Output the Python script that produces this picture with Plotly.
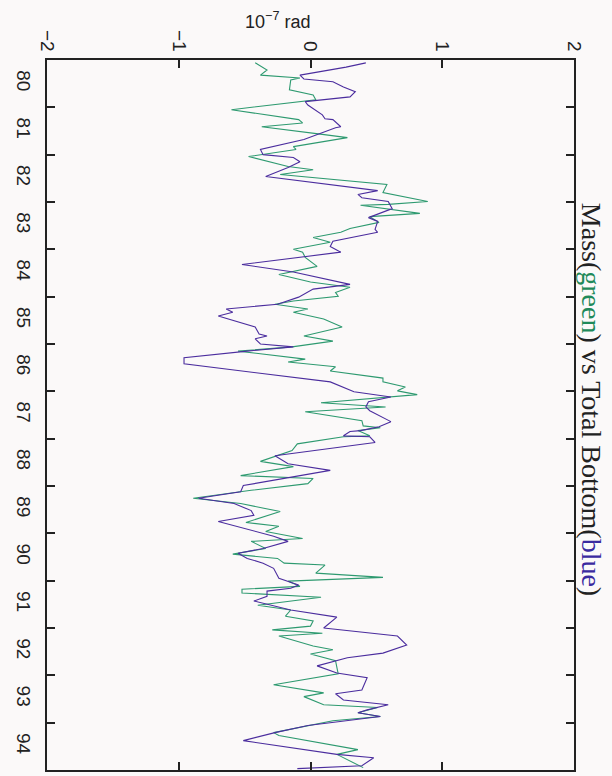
import plotly.graph_objects as go

# Time axis (decimal years) and values (10^-7 rad)
green_t = [80.06, 80.21, 80.32, 80.38, 80.42, 80.63, 80.74, 80.84, 81.05, 81.26, 81.33, 81.41, 81.56, 81.64,
           81.83, 81.89, 82.04, 82.25, 82.32, 82.42, 82.63, 82.80, 82.99, 83.05, 83.07, 83.24, 83.31, 83.43,
           83.56, 83.64, 83.75, 83.85, 84.00, 84.06, 84.17, 84.36, 84.53, 84.69, 84.80, 84.91, 84.99, 85.09,
           85.16, 85.26, 85.33, 85.47, 85.64, 85.83, 85.94, 86.06, 86.15, 86.32, 86.38, 86.48, 86.57, 86.72,
           86.80, 86.91, 86.99, 87.07, 87.24, 87.33, 87.43, 87.62, 87.73, 87.77, 87.83, 87.94, 87.96, 88.11,
           88.25, 88.48, 88.59, 88.78, 88.84, 88.95, 89.09, 89.26, 89.37, 89.54, 89.77, 89.85, 89.96, 90.11,
           90.17, 90.32, 90.44, 90.53, 90.63, 90.67, 90.84, 90.93, 91.01, 91.12, 91.18, 91.26, 91.35, 91.52,
           91.62, 91.75, 91.85, 91.96, 92.04, 92.11, 92.17, 92.38, 92.46, 92.55, 92.69, 92.97, 93.20, 93.37,
           93.45, 93.62, 93.68, 93.79, 93.87, 93.96, 94.21, 94.27, 94.57, 94.67, 94.95]
green_v = [-0.42, -0.33, -0.38, -0.08, -0.15, -0.16, 0.02, 0.04, -0.60, -0.09, -0.06, -0.37, 0.06, 0.28,
           -0.13, -0.11, -0.47, -0.17, 0.02, -0.23, 0.58, 0.55, 0.89, 0.59, 0.38, 0.83, 0.45, 0.52,
           0.30, 0.23, 0.02, 0.15, -0.13, -0.06, -0.04, 0.05, -0.24, 0.00, 0.30, 0.19, 0.21, -0.13,
           -0.27, -0.02, -0.13, 0.10, 0.24, -0.05, 0.17, -0.14, -0.55, -0.04, -0.17, 0.19, 0.15, 0.55,
           0.55, 0.72, 0.66, 0.81, 0.08, 0.57, -0.04, 0.39, 0.40, 0.53, 0.36, 0.45, 0.25, -0.10,
           -0.14, -0.38, -0.13, -0.53, 0.02, -0.02, -0.45, -0.89, -0.53, -0.23, -0.49, -0.24, -0.34, -0.06,
           -0.45, -0.34, -0.59, -0.25, -0.20, 0.11, 0.04, 0.55, -0.17, -0.08, -0.52, -0.52, 0.08, -0.40,
           -0.15, -0.19, 0.02, 0.00, -0.29, 0.09, -0.24, 0.02, 0.17, 0.00, 0.19, 0.21, -0.28, 0.10,
           -0.05, 0.10, 0.51, 0.36, 0.53, 0.17, -0.28, -0.24, 0.36, 0.20, 0.40]

blue_t = [80.06, 80.15, 80.32, 80.40, 80.46, 80.57, 80.67, 80.78, 80.88, 80.95, 81.16, 81.24, 81.26, 81.41,
          81.43, 81.58, 81.68, 81.89, 82.00, 82.06, 82.15, 82.27, 82.46, 82.76, 82.84, 82.91, 82.99, 83.14,
          83.33, 83.41, 83.58, 83.64, 83.83, 83.94, 84.06, 84.32, 84.48, 84.74, 84.84, 85.01, 85.16, 85.26,
          85.33, 85.41, 85.64, 85.79, 85.83, 85.89, 86.00, 86.06, 86.15, 86.29, 86.42, 86.80, 87.01, 87.12,
          87.22, 87.33, 87.41, 87.64, 87.75, 87.83, 87.85, 87.94, 87.96, 88.08, 88.36, 88.53, 88.67, 88.99,
          89.12, 89.26, 89.37, 89.52, 89.62, 89.75, 89.94, 90.06, 90.17, 90.32, 90.42, 90.53, 90.63, 90.74,
          90.95, 91.01, 91.09, 91.16, 91.22, 91.33, 91.43, 91.62, 91.77, 92.00, 92.17, 92.36, 92.53, 92.63,
          92.80, 92.95, 93.05, 93.31, 93.39, 93.52, 93.62, 93.73, 93.79, 93.87, 94.06, 94.21, 94.38, 94.67,
          94.74, 94.91, 94.97]
blue_v = [0.42, 0.27, -0.08, -0.05, 0.17, 0.25, 0.34, 0.30, -0.04, -0.02, 0.09, 0.11, 0.17, 0.23,
          0.19, 0.04, -0.05, -0.38, -0.36, -0.13, -0.08, -0.17, -0.34, 0.51, 0.36, 0.39, 0.59, 0.62,
          0.44, 0.51, 0.49, 0.51, 0.17, 0.15, 0.23, -0.52, -0.13, 0.30, 0.02, -0.09, -0.25, -0.64,
          -0.59, -0.70, -0.42, -0.39, -0.33, -0.42, -0.38, -0.13, -0.48, -0.96, -0.96, 0.15, 0.33, 0.61,
          0.44, 0.42, 0.45, 0.61, 0.52, 0.38, 0.30, 0.25, 0.45, 0.49, -0.27, -0.17, 0.15, -0.51,
          -0.53, -0.85, -0.58, -0.45, -0.43, -0.70, -0.45, -0.28, -0.17, -0.36, -0.55, -0.48, -0.36, -0.28,
          -0.24, -0.17, -0.09, -0.15, -0.33, -0.33, -0.43, -0.15, 0.20, 0.10, 0.66, 0.73, 0.55, 0.28,
          0.05, 0.20, 0.43, 0.39, 0.19, 0.25, 0.59, 0.43, 0.36, 0.53, -0.02, -0.27, -0.51, 0.20,
          0.48, 0.39, -0.10]

value_ticks = [-2, -1, 0, 1, 2]
year_ticks = list(range(81, 95))
year_labels = [str(y) for y in range(80, 95)]

GREEN = "#2e9a70"
BLUE = "#4b2d9e"

fig = go.Figure()
fig.add_trace(go.Scatter(x=green_v, y=green_t, mode="lines", line=dict(color=GREEN, width=1.1),
                         showlegend=False, hoverinfo="skip"))
fig.add_trace(go.Scatter(x=blue_v, y=blue_t, mode="lines", line=dict(color=BLUE, width=1.1),
                         showlegend=False, hoverinfo="skip"))
# invisible trace bound to the label axis
fig.add_trace(go.Scatter(x=[0], y=[87], yaxis="y2", mode="markers", marker=dict(opacity=0),
                         showlegend=False, hoverinfo="skip"))

axis_font = dict(family="Liberation Sans, Arial, sans-serif", size=19, color="#222")

fig.update_layout(
    width=612, height=776,
    margin=dict(l=47, r=38, t=60, b=4),
    paper_bgcolor="#fbf9f9", plot_bgcolor="#fbf9f9",
    xaxis=dict(range=[-2, 2], side="top", tickvals=value_ticks,
               ticktext=[("−" + str(-v)) if v < 0 else str(v) for v in value_ticks],
               tickangle=90, ticks="inside", ticklen=8, tickwidth=1.5, tickcolor="#222",
               showline=True, linecolor="#222", linewidth=1.5, mirror="ticks",
               showgrid=False, zeroline=False, tickfont=axis_font),
    yaxis=dict(range=[95, 80], tickvals=year_ticks, showticklabels=False,
               ticks="inside", ticklen=8, tickwidth=1.5, tickcolor="#222",
               showline=True, linecolor="#222", linewidth=1.5, mirror="ticks",
               showgrid=False, zeroline=False),
    yaxis2=dict(range=[95, 80], overlaying="y", side="left",
                tickvals=[y + 0.5 for y in range(80, 95)], ticktext=year_labels,
                tickangle=90, ticks="", showline=False, showgrid=False, zeroline=False,
                tickfont=axis_font, ticklabelstandoff=10),
    annotations=[
        dict(text="10<sup>−7</sup> rad", xref="paper", yref="paper", x=(277 - 47) / 527, y=1 + (60 - 20) / 712.5,
             showarrow=False, xanchor="center", yanchor="middle",
             font=dict(family="Liberation Sans, Arial, sans-serif", size=18, color="#222")),
        dict(text="Mass(<span style='color:#1f8a5a'>green</span>) vs Total Bottom(<span style='color:#3a2aa0'>blue</span>)",
             xref="paper", yref="paper", x=(591 - 47) / 527, y=1 - (400 - 60) / 712.5,
             showarrow=False, textangle=90, xanchor="center", yanchor="middle",
             font=dict(family="Liberation Serif, Times New Roman, serif", size=28, color="#222")),
    ],
)

fig.write_html("out.html")
